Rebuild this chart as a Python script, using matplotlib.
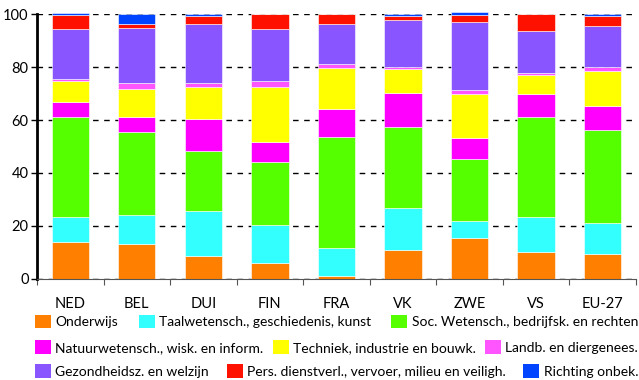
import numpy as np
import matplotlib
matplotlib.use("Agg")
import matplotlib.pyplot as plt
from matplotlib.patches import Patch

plt.rcParams['font.family'] = ['Lato', 'DejaVu Sans']

# landen
landen = ['NED', 'BEL', 'DUI', 'FIN', 'FRA', 'VK', 'ZWE', 'VS', 'EU-27']

# aandeel per studierichting (%)
onderwijs   = [14.0, 13.2,  8.8,  6.0,  1.1, 11.1, 15.4, 10.3,  9.5]
taal        = [ 9.4, 10.8, 16.7, 14.4, 10.7, 15.8,  6.5, 13.1, 11.6]
soc         = [37.7, 31.5, 22.8, 23.6, 41.7, 30.6, 23.5, 37.7, 35.1]
natuur      = [ 5.7,  5.6, 12.2,  7.8, 10.5, 12.8,  7.9,  8.6,  9.2]
techniek    = [ 7.9, 10.7, 12.1, 20.8, 15.7,  8.8, 16.5,  7.3, 13.1]
landb       = [ 0.8,  2.3,  1.5,  2.1,  1.5,  0.9,  1.5,  0.7,  1.5]
gezondheid  = [18.7, 20.7, 22.1, 19.5, 15.0, 17.6, 25.7, 15.8, 15.6]
pers        = [ 5.5,  1.4,  2.9,  5.7,  3.7,  1.5,  2.7,  6.4,  3.5]
onbekend    = [ 0.7,  3.7,  0.8,  0.0,  0.1,  0.8,  0.9,  0.1,  0.8]

series = [onderwijs, taal, soc, natuur, techniek, landb, gezondheid, pers, onbekend]
labels = ['Onderwijs', 'Taalwetensch., geschiedenis, kunst',
          'Soc. Wetensch., bedrijfsk. en rechten',
          'Natuurwetensch., wisk. en inform.', 'Techniek, industrie en bouwk.',
          'Landb. en diergenees.', 'Gezondheidsz. en welzijn',
          'Pers. dienstverl., vervoer, milieu en veiligh.', 'Richting onbek.']
kleuren = ['#FF8000', '#33FFFF', '#55FF00', '#FF00FF', '#FFFF00',
           '#FF55FF', '#8855FF', '#FF1100', '#0044FF']

fig = plt.figure(figsize=(6.39, 3.80), dpi=100)
ax = fig.add_axes([0.058, 0.266, 0.937, 0.697])

x = np.arange(len(landen))
bottom = np.zeros(len(landen))
for vals, kleur in zip(series, kleuren):
    vals = np.array(vals)
    ax.bar(x, vals, width=0.56, bottom=bottom, color=kleur,
           edgecolor='white', linewidth=0.4, clip_on=False, zorder=2)
    bottom += vals

ax.set_xlim(-0.5, len(landen) - 0.5)
ax.set_ylim(0, 100)
ax.set_yticks([0, 20, 40, 60, 80, 100])
ax.yaxis.grid(True, color='black', linestyle=(0, (4, 4)), linewidth=1.0, zorder=1)
ax.set_axisbelow(True)

ax.set_xticks(x)
ax.set_xticklabels(landen, fontsize=10.5)
ax.set_xticks(np.arange(-0.5, len(landen)), minor=True)
ax.tick_params(axis='x', which='major', length=0, pad=13)
ax.tick_params(axis='x', which='minor', length=4, color='#555555', width=0.8)
ax.tick_params(axis='y', length=4, width=1, labelsize=10.5, pad=2)

for s in ['top', 'right']:
    ax.spines[s].set_visible(False)
ax.spines['left'].set_linewidth(2)
ax.spines['bottom'].set_color('#555555')
ax.spines['bottom'].set_linewidth(0.8)

# legenda in drie rijen, uitgerekt over de breedte
x0, breedte = 35 / 639, (638 - 35) / 639
rijen = [(0, 3, 1 - 321.5 / 380), (3, 6, 1 - 347 / 380), (6, 9, 1 - 371 / 380)]
for start, eind, ypos in rijen:
    handles = [Patch(facecolor=kleuren[i], edgecolor='none') for i in range(start, eind)]
    fig.legend(handles, labels[start:eind], loc='center left',
               bbox_to_anchor=(x0, ypos, breedte, 0), mode='expand',
               ncol=3, frameon=False, fontsize=10, handlelength=1.15, handleheight=1.1,
               handletextpad=0.3, borderaxespad=0, borderpad=0)

fig.savefig('out.png', dpi=100)
